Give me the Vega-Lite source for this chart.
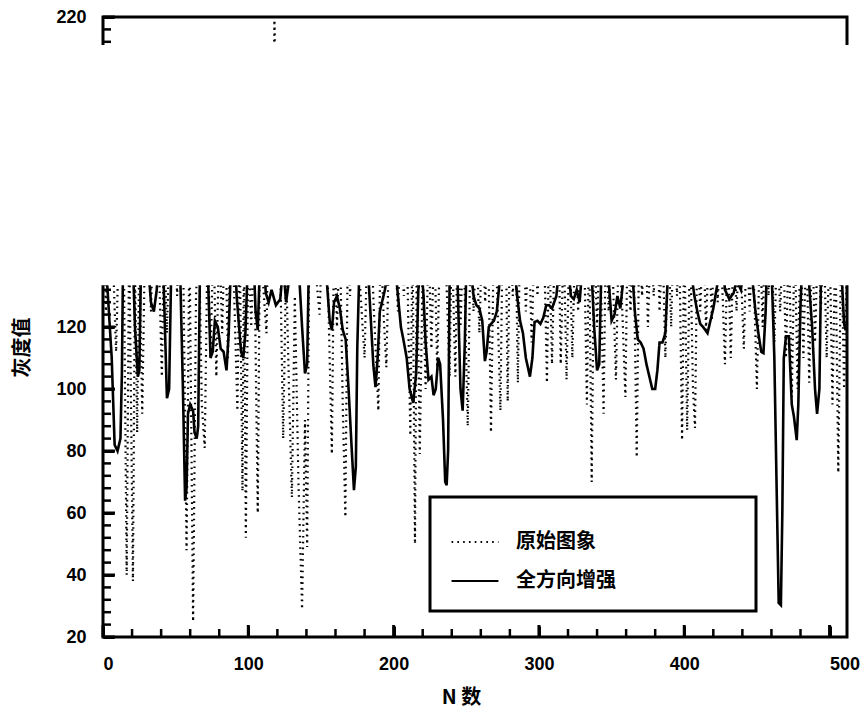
{
"$schema": "https://vega.github.io/schema/vega-lite/v6.json",
"width": 744, "height": 620,
"autosize": {"type": "none"},
"padding": {"left": 103, "top": 17, "right": 15, "bottom": 76},
"background": "white",
"config": {"view": {"stroke": "black", "strokeWidth": 3}, "font": "Liberation Sans"},
"datasets": {
"enh": [
{"n":0,"v":140},{"n":3,"v":133},{"n":6,"v":110},{"n":8,"v":82},{"n":10,"v":80},{"n":12,"v":84},{"n":13,"v":105},{"n":14,"v":150},{"n":17,"v":160},{"n":20,"v":150},{"n":22,"v":120},{"n":24,"v":104},{"n":25,"v":106},{"n":26,"v":135},{"n":28,"v":155},{"n":31,"v":140},{"n":33,"v":128},{"n":35,"v":125},{"n":37,"v":132},{"n":40,"v":160},{"n":42,"v":130},{"n":44,"v":97},{"n":45.5,"v":100},{"n":47,"v":140},{"n":50,"v":165},{"n":53,"v":140},{"n":55,"v":100},{"n":56.5,"v":64},{"n":57.5,"v":68},{"n":58.5,"v":92},{"n":60,"v":95},{"n":62,"v":93},{"n":63,"v":86},{"n":64.5,"v":84},{"n":65.5,"v":88},{"n":67,"v":150},{"n":70,"v":160},{"n":72,"v":140},{"n":74,"v":110},{"n":75.5,"v":112},{"n":77,"v":122},{"n":79,"v":120},{"n":81,"v":113},{"n":83,"v":112},{"n":85,"v":106},{"n":86.5,"v":118},{"n":88,"v":140},{"n":90,"v":150},{"n":92,"v":130},{"n":95,"v":112},{"n":96.5,"v":110},{"n":98,"v":118},{"n":100,"v":145},{"n":103,"v":150},{"n":105,"v":125},{"n":106.5,"v":119},{"n":108,"v":140},{"n":110,"v":150},{"n":112,"v":131},{"n":114,"v":128},{"n":116,"v":132},{"n":119,"v":127},{"n":122,"v":129},{"n":124,"v":140},{"n":126,"v":128},{"n":128,"v":135},{"n":131,"v":150},{"n":134,"v":145},{"n":137,"v":120},{"n":139,"v":105},{"n":140.5,"v":108},{"n":142,"v":150},{"n":145,"v":160},{"n":148,"v":145},{"n":151,"v":150},{"n":154,"v":135},{"n":156,"v":122},{"n":157.5,"v":119},{"n":159,"v":128},{"n":161,"v":130},{"n":163,"v":126},{"n":165,"v":119},{"n":167,"v":116},{"n":169,"v":100},{"n":171,"v":82},{"n":172.7,"v":67.4},{"n":174,"v":75},{"n":175,"v":113.5},{"n":176.5,"v":140},{"n":178,"v":155},{"n":181,"v":150},{"n":184,"v":125},{"n":186,"v":108},{"n":187.5,"v":100.6},{"n":189,"v":110},{"n":190.5,"v":125},{"n":192,"v":128},{"n":194,"v":132},{"n":197,"v":140},{"n":200,"v":150},{"n":202,"v":135},{"n":205,"v":120},{"n":206.7,"v":116},{"n":209,"v":110},{"n":211,"v":100},{"n":213.5,"v":95.5},{"n":215.5,"v":105},{"n":217,"v":132},{"n":219,"v":140},{"n":220.6,"v":130},{"n":222,"v":115},{"n":224,"v":103},{"n":226,"v":104},{"n":227.5,"v":98},{"n":229,"v":100},{"n":230.7,"v":110},{"n":232,"v":108},{"n":234,"v":90},{"n":235.5,"v":70},{"n":236.5,"v":69},{"n":237.5,"v":80},{"n":238.8,"v":150},{"n":241,"v":160},{"n":244,"v":135},{"n":246,"v":100},{"n":247.5,"v":93},{"n":249,"v":115},{"n":250.5,"v":150},{"n":253,"v":140},{"n":255,"v":130},{"n":257,"v":127},{"n":259,"v":126},{"n":261,"v":122},{"n":262.8,"v":109},{"n":264,"v":112},{"n":265.5,"v":120},{"n":267,"v":121},{"n":269,"v":122},{"n":271,"v":125},{"n":273,"v":135},{"n":275,"v":150},{"n":278,"v":160},{"n":282,"v":145},{"n":285,"v":130},{"n":287,"v":122},{"n":289,"v":118},{"n":291,"v":110},{"n":293.8,"v":104},{"n":295.5,"v":110},{"n":297,"v":121.6},{"n":299,"v":122},{"n":301,"v":121},{"n":303,"v":123},{"n":305,"v":127},{"n":307,"v":127},{"n":309,"v":126},{"n":312,"v":130},{"n":315,"v":145},{"n":317,"v":150},{"n":320,"v":140},{"n":322,"v":130},{"n":324,"v":129},{"n":326,"v":132},{"n":328,"v":128},{"n":330,"v":140},{"n":333,"v":150},{"n":336,"v":140},{"n":338,"v":120},{"n":340,"v":106},{"n":341.5,"v":108},{"n":343,"v":140},{"n":345,"v":150},{"n":348,"v":135},{"n":350,"v":122},{"n":352,"v":124},{"n":354,"v":130},{"n":356,"v":126},{"n":358,"v":135},{"n":361,"v":150},{"n":364,"v":140},{"n":366,"v":125},{"n":368,"v":116},{"n":370,"v":115},{"n":372,"v":113},{"n":374,"v":108},{"n":376,"v":104},{"n":378,"v":100},{"n":380,"v":100},{"n":381.5,"v":106},{"n":383,"v":115},{"n":385,"v":115},{"n":387,"v":118},{"n":389,"v":140},{"n":391,"v":155},{"n":395,"v":150},{"n":398,"v":140},{"n":401,"v":150},{"n":404,"v":140},{"n":407,"v":130},{"n":409,"v":125},{"n":411,"v":121},{"n":413,"v":120},{"n":416,"v":118},{"n":418,"v":122},{"n":420,"v":126},{"n":422.5,"v":133},{"n":425,"v":150},{"n":428,"v":132},{"n":431,"v":129},{"n":434,"v":131},{"n":436,"v":135},{"n":439,"v":132},{"n":442,"v":150},{"n":446,"v":140},{"n":449,"v":125},{"n":451,"v":118},{"n":453,"v":112},{"n":454.5,"v":111.6},{"n":456,"v":125},{"n":457.5,"v":150},{"n":460,"v":140},{"n":462,"v":110},{"n":463.5,"v":70},{"n":465,"v":31},{"n":466.5,"v":30.3},{"n":467.5,"v":60},{"n":468.5,"v":110},{"n":470,"v":117},{"n":472,"v":117},{"n":474,"v":95},{"n":475.5,"v":91},{"n":477.4,"v":83.5},{"n":478.5,"v":95},{"n":480,"v":127},{"n":482,"v":150},{"n":485,"v":140},{"n":488,"v":120},{"n":490,"v":100},{"n":491.4,"v":92},{"n":493,"v":100},{"n":494.5,"v":150},{"n":498,"v":160},{"n":502,"v":150},{"n":506,"v":140},{"n":508.5,"v":135},{"n":510,"v":121},{"n":511,"v":119},{"n":512,"v":121}
],
"orig": [
{"n":0,"v":160},{"n":2,"v":125},{"n":4,"v":150},{"n":7,"v":140},{"n":9,"v":112},{"n":11,"v":150},{"n":14,"v":160},{"n":16.3,"v":40},{"n":18,"v":150},{"n":20.6,"v":38},{"n":22,"v":140},{"n":23.5,"v":86},{"n":25,"v":145},{"n":27,"v":92},{"n":29,"v":150},{"n":31,"v":170},{"n":33,"v":125},{"n":35,"v":160},{"n":38,"v":150},{"n":40.5,"v":104},{"n":42,"v":150},{"n":44,"v":118},{"n":46,"v":155},{"n":49,"v":165},{"n":51,"v":130},{"n":53,"v":160},{"n":55,"v":150},{"n":57.5,"v":48},{"n":59.5,"v":150},{"n":62,"v":25},{"n":64,"v":130},{"n":66,"v":150},{"n":68,"v":95},{"n":70,"v":81},{"n":72,"v":150},{"n":74,"v":110},{"n":76,"v":150},{"n":78,"v":104},{"n":80,"v":150},{"n":82,"v":118},{"n":84,"v":155},{"n":86,"v":110},{"n":88,"v":160},{"n":90,"v":135},{"n":92.5,"v":93},{"n":94,"v":150},{"n":96,"v":67},{"n":97,"v":150},{"n":98.3,"v":52},{"n":100,"v":150},{"n":102,"v":120},{"n":104,"v":150},{"n":106.5,"v":60},{"n":108,"v":150},{"n":110,"v":135},{"n":112.5,"v":118},{"n":114,"v":160},{"n":116,"v":150},{"n":118,"v":219},{"n":120,"v":160},{"n":122,"v":140},{"n":124,"v":84},{"n":126,"v":140},{"n":128,"v":100},{"n":130,"v":65},{"n":132,"v":130},{"n":134.5,"v":70},{"n":137,"v":29},{"n":139,"v":90},{"n":140.5,"v":49},{"n":142,"v":150},{"n":144,"v":165},{"n":146,"v":140},{"n":149,"v":124},{"n":151,"v":150},{"n":153,"v":160},{"n":155,"v":130},{"n":157.5,"v":79},{"n":159,"v":150},{"n":161,"v":120},{"n":163,"v":150},{"n":165,"v":95},{"n":166.8,"v":58.7},{"n":168.5,"v":150},{"n":170,"v":130},{"n":172,"v":150},{"n":174,"v":160},{"n":176,"v":140},{"n":178,"v":125},{"n":180,"v":110},{"n":182,"v":150},{"n":184,"v":160},{"n":186,"v":130},{"n":189.5,"v":93},{"n":191,"v":150},{"n":193,"v":125},{"n":195,"v":107},{"n":197,"v":150},{"n":199,"v":160},{"n":201,"v":145},{"n":203,"v":125},{"n":205,"v":150},{"n":207,"v":130},{"n":209,"v":150},{"n":211.5,"v":85},{"n":213,"v":150},{"n":214.7,"v":50},{"n":216,"v":150},{"n":218,"v":79},{"n":220,"v":140},{"n":222,"v":100},{"n":224,"v":150},{"n":226,"v":113},{"n":228,"v":150},{"n":230,"v":106},{"n":232,"v":150},{"n":234,"v":160},{"n":236,"v":140},{"n":238.5,"v":104},{"n":240,"v":150},{"n":242.5,"v":104},{"n":244,"v":150},{"n":246,"v":120},{"n":248,"v":150},{"n":251,"v":88},{"n":253,"v":150},{"n":255,"v":125},{"n":257,"v":150},{"n":259,"v":118},{"n":261,"v":150},{"n":263,"v":128},{"n":265,"v":150},{"n":267,"v":86},{"n":269,"v":150},{"n":271,"v":135},{"n":273.5,"v":93},{"n":275,"v":150},{"n":277,"v":160},{"n":278.5,"v":96},{"n":280,"v":150},{"n":282,"v":130},{"n":284,"v":150},{"n":285.5,"v":102},{"n":287,"v":150},{"n":289,"v":160},{"n":291,"v":125},{"n":293,"v":150},{"n":295,"v":115},{"n":297,"v":150},{"n":299,"v":130},{"n":301,"v":150},{"n":303,"v":160},{"n":305.5,"v":102},{"n":307,"v":150},{"n":309,"v":108},{"n":311,"v":150},{"n":313,"v":165},{"n":315,"v":108},{"n":317,"v":150},{"n":319,"v":103},{"n":321,"v":150},{"n":323,"v":110},{"n":325,"v":150},{"n":327,"v":125},{"n":329,"v":160},{"n":331,"v":150},{"n":333,"v":95},{"n":334.5,"v":150},{"n":336.3,"v":70},{"n":338,"v":150},{"n":340,"v":120},{"n":342,"v":150},{"n":344.5,"v":92},{"n":346,"v":150},{"n":348,"v":125},{"n":350,"v":150},{"n":353,"v":103},{"n":355,"v":150},{"n":357,"v":130},{"n":359.5,"v":97.4},{"n":361,"v":150},{"n":363,"v":125},{"n":365,"v":150},{"n":367.3,"v":78},{"n":369,"v":150},{"n":371,"v":130},{"n":373,"v":160},{"n":375,"v":120},{"n":377,"v":150},{"n":379,"v":130},{"n":381,"v":160},{"n":383,"v":125},{"n":385,"v":150},{"n":387,"v":110},{"n":389,"v":150},{"n":391,"v":120},{"n":393,"v":160},{"n":395,"v":130},{"n":396.5,"v":150},{"n":398.5,"v":83.5},{"n":400,"v":150},{"n":402,"v":86.7},{"n":404,"v":150},{"n":406,"v":100},{"n":407.4,"v":87.4},{"n":409,"v":150},{"n":411,"v":125},{"n":413,"v":150},{"n":415,"v":119},{"n":417,"v":150},{"n":419,"v":122},{"n":421,"v":160},{"n":423,"v":128},{"n":425,"v":150},{"n":428,"v":108},{"n":430,"v":150},{"n":432,"v":110},{"n":434,"v":150},{"n":436,"v":125},{"n":438,"v":150},{"n":441,"v":113},{"n":443,"v":150},{"n":445,"v":125},{"n":447,"v":150},{"n":450,"v":100},{"n":452,"v":150},{"n":454,"v":120},{"n":456,"v":160},{"n":458,"v":130},{"n":460,"v":150},{"n":462,"v":115},{"n":464,"v":150},{"n":466,"v":125},{"n":468,"v":150},{"n":470,"v":110},{"n":472,"v":150},{"n":474,"v":97.4},{"n":476,"v":150},{"n":478,"v":100},{"n":480,"v":150},{"n":482,"v":110},{"n":484,"v":150},{"n":486,"v":102},{"n":488,"v":150},{"n":490,"v":115},{"n":492,"v":150},{"n":494,"v":125},{"n":496,"v":150},{"n":498,"v":110},{"n":500,"v":150},{"n":502,"v":95},{"n":504,"v":150},{"n":506,"v":73},{"n":508,"v":150},{"n":510,"v":100},{"n":512,"v":140}
],
"ymajor": [{"t":20},{"t":40},{"t":60},{"t":80},{"t":100},{"t":120},{"t":220}],
"yminor": [{"t":24},{"t":28},{"t":32},{"t":36},{"t":44},{"t":48},{"t":52},{"t":56},{"t":64},{"t":68},{"t":72},{"t":76},{"t":84},{"t":88},{"t":92},{"t":96},{"t":104},{"t":108},{"t":112},{"t":116},{"t":124},{"t":128},{"t":132},{"t":212},{"t":216}],
"xmajor": [{"t":0},{"t":100},{"t":200},{"t":300},{"t":400},{"t":500}],
"xminor": [{"t":20},{"t":40},{"t":60},{"t":80},{"t":120},{"t":140},{"t":160},{"t":180},{"t":220},{"t":240},{"t":260},{"t":280},{"t":320},{"t":340},{"t":360},{"t":380},{"t":420},{"t":440},{"t":460},{"t":480}]
},
"layer": [
{
"data": {"name": "orig"},
"mark": {"type": "line", "color": "black", "strokeWidth": 2.2, "strokeDash": [1.6, 4.2]},
"encoding": {
"x": {"field": "n", "type": "quantitative", "scale": {"domain": [0, 512], "nice": false, "zero": false},
"axis": {"orient": "bottom", "offset": -11, "values": [0,100,200,300,400,500], "tickSize": 11, "tickWidth": 3, "tickColor": "#000000", "domain": false, "grid": false,
"labelFontSize": 18, "labelFontWeight": "bold", "labelColor": "black", "labelPadding": 18, "labelBaseline": "top",
"labelOffset": {"condition": {"test": "datum.value === 500", "value": 15}, "value": 0},
"title": "N 数", "titleFont": "Noto Sans CJK SC", "titleFontSize": 20, "titleFontWeight": "bold", "titleColor": "black", "titleX": 358, "titleY": 71, "titleBaseline": "middle", "titleAlign": "center"}},
"y": {"field": "v", "type": "quantitative", "scale": {"domain": [20, 220], "nice": false, "zero": false},
"axis": {"orient": "left", "offset": -11, "values": [20,40,60,80,100,120,220], "tickSize": 11, "tickWidth": 3, "tickColor": "#000000", "domain": false, "grid": false,
"labelFontSize": 18, "labelFontWeight": "bold", "labelColor": "black", "labelPadding": 17,
"title": "灰度值", "titleFont": "Noto Sans CJK SC", "titleFontSize": 20, "titleFontWeight": "bold", "titleColor": "black", "titleAngle": 270, "titleX": -92, "titleY": 330, "titleBaseline": "middle", "titleAlign": "center"}},
"strokeDash": {"datum": "原始图象", "type": "nominal",
"scale": {"domain": ["原始图象", "全方向增强"], "range": [[1.6, 4.2], [1, 0]]},
"legend": {"orient": "none", "legendX": 327, "legendY": 480, "title": ".", "titleColor": "white", "titleFontSize": 6, "titleOrient": "right", "titlePadding": 118,
"fillColor": "white", "strokeColor": "black", "padding": 20,
"symbolType": "stroke", "symbolSize": 2200, "symbolStrokeWidth": 2.2, "symbolStrokeColor": "black",
"labelFont": "Noto Sans CJK SC", "labelFontSize": 20, "labelFontWeight": "bold", "labelColor": "black", "labelOffset": 16, "rowPadding": 4, "labelLimit": 300,
"encode": {"legend": {"update": {"strokeWidth": {"value": 3}}}}}}
}
},
{
"data": {"name": "enh"},
"mark": {"type": "line", "color": "black", "strokeWidth": 2.6},
"encoding": {
"x": {"field": "n", "type": "quantitative", "axis": null},
"y": {"field": "v", "type": "quantitative", "axis": null},
"strokeDash": {"datum": "全方向增强", "type": "nominal"}
}
},
{
"data": {"values": [{}]},
"mark": {"type": "rect", "fill": "white", "clip": false},
"encoding": {
"x": {"datum": -8, "type": "quantitative", "axis": null},
"x2": {"datum": 522},
"y": {"datum": 133.5, "type": "quantitative", "axis": null},
"y2": {"datum": 211}
}
},
{
"data": {"name": "ymajor"},
"mark": {"type": "tick", "orient": "horizontal", "color": "black", "opacity": 1, "size": 12, "thickness": 3},
"encoding": {
"y": {"field": "t", "type": "quantitative", "axis": null},
"x": {"datum": 4.1, "type": "quantitative", "axis": null}
}
},
{
"data": {"name": "yminor"},
"mark": {"type": "tick", "orient": "horizontal", "color": "black", "opacity": 1, "size": 8, "thickness": 2.5},
"encoding": {
"y": {"field": "t", "type": "quantitative", "axis": null},
"x": {"datum": 2.75, "type": "quantitative", "axis": null}
}
},
{
"data": {"name": "xmajor"},
"mark": {"type": "tick", "orient": "vertical", "color": "black", "opacity": 1, "size": 12, "thickness": 3},
"encoding": {
"x": {"field": "t", "type": "quantitative", "axis": null},
"y": {"datum": 21.94, "type": "quantitative", "axis": null}
}
},
{
"data": {"name": "xminor"},
"mark": {"type": "tick", "orient": "vertical", "color": "black", "opacity": 1, "size": 8, "thickness": 2.5},
"encoding": {
"x": {"field": "t", "type": "quantitative", "axis": null},
"y": {"datum": 21.3, "type": "quantitative", "axis": null}
}
}
],
"resolve": {"axis": {"x": "independent", "y": "independent"}}
}
